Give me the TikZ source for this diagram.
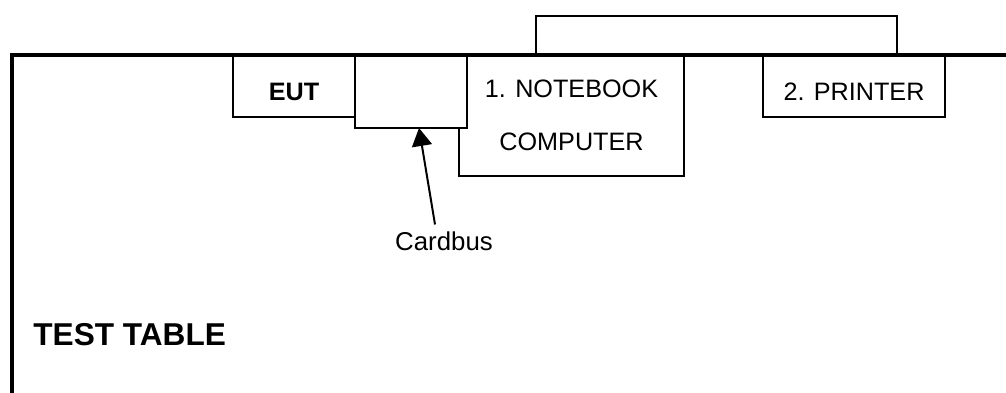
\documentclass[tikz,border=0pt]{standalone}
\usepackage{fontspec}
\setmainfont{Liberation Sans}
\usetikzlibrary{positioning}
\usetikzlibrary{arrows.meta}

\begin{document}
\begin{tikzpicture}[x=.5pt,y=-.5pt,
  unit/.style={draw, fill=white, line width=1pt, inner sep=0pt, outer sep=0pt, anchor=north west, align=center, font=\fontsize{12.6}{26.5}\selectfont},
  low/.style={text height=14pt, text depth=0pt}]
\useasboundingbox (0,0) rectangle (1006,392);
\node[unit, minimum width=112.5pt, minimum height=60.5pt] (notebook) at (459,55) {1. NOTEBOOK\\COMPUTER};
\node[unit, low, minimum width=61pt, minimum height=31pt] (eut) at (233,55) {\textbf{EUT}};
\node[unit, minimum width=56pt, minimum height=36.5pt] (card) at (eut.north east) {};
\node[unit, low, minimum width=91pt, minimum height=31pt] (printer) at (763,55) {2. PRINTER};
\coordinate (p1) at (536,55);
\coordinate (p2) at (897,55);
\draw[line width=1pt] (p1) -- ++(0,-39) -| (p2);
\coordinate (tl) at (11.5,55);
\draw[line width=2pt] (11.5,400) -- (tl) -- (1012,55);
\node[font=\fontsize{12.9}{15}\selectfont] (cardbus) at (444,241) {Cardbus};
\draw[line width=1pt, -{Triangle[length=9pt,width=10pt]}] ([xshift=-4.5pt]cardbus.north) -- ([xshift=4pt]card.south);
\node[anchor=west, inner sep=0pt, font=\fontsize{15.8}{19}\selectfont\bfseries] (table) at (33,334.5) {TEST TABLE};
\end{tikzpicture}
\end{document}
